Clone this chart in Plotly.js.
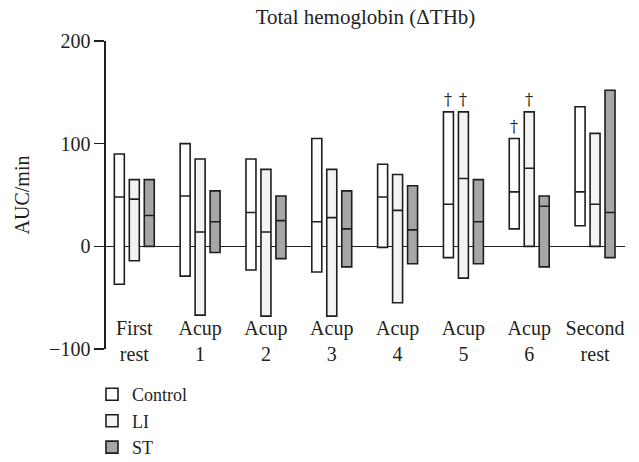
<!DOCTYPE html>
<html>
<head>
<meta charset="utf-8">
<script src="https://cdn.plot.ly/plotly-3.0.1.min.js"></script>
<style>html,body{margin:0;padding:0;background:#fff;}#chart{width:639px;height:462px;}</style>
</head>
<body>
<div id="chart"></div>
<script>
// Categories (x tick labels)
var categories = ['First<br>rest', 'Acup<br>1', 'Acup<br>2', 'Acup<br>3', 'Acup<br>4', 'Acup<br>5', 'Acup<br>6', 'Second<br>rest'];

// Control series: top, median, bottom of each bar (AUC/min)
var controlTop = [90, 100, 85, 105, 80, 131, 105, 136];
var controlMed = [48, 49, 33, 24, 48, 41, 53, 53];
var controlBot = [-37, -29, -23, -25, -1, -11, 17, 20];

// LI series
var liTop = [65, 85, 75, 75, 70, 131, 131, 110];
var liMed = [46, 14, 14, 28, 35, 66, 76, 41];
var liBot = [-14, -67, -68, -68, -55, -31, 0, 0];

// ST series
var stTop = [65, 54, 49, 54, 59, 65, 49, 152];
var stMed = [30, 24, 25, 17, 16, 24, 39, 33];
var stBot = [0, -6, -12, -20, -17, -17, -20, -11];

// Significance markers (dagger): category index and series name
var daggerCats = [5, 5, 6, 6];
var daggerSeries = ['Control', 'LI', 'Control', 'LI'];

var seriesNames = ['Control', 'LI', 'ST'];
var seriesTop = {Control: controlTop, LI: liTop, ST: stTop};
var seriesMed = {Control: controlMed, LI: liMed, ST: stMed};
var seriesBot = {Control: controlBot, LI: liBot, ST: stBot};
var fills = {Control: '#ffffff', LI: '#f2f3f2', ST: '#a6a6a6'};

var BOXGAP = 0.3175, BOXGROUPGAP = 0.333;
var textColor = '#231f20';
var fontFam = 'Liberation Serif';

var traces = seriesNames.map(function (name) {
  return {
    type: 'box',
    name: name,
    x: categories,
    q1: seriesBot[name],
    median: seriesMed[name],
    q3: seriesTop[name],
    lowerfence: seriesBot[name],
    upperfence: seriesTop[name],
    fillcolor: fills[name],
    line: {color: '#1e1e1e', width: 1.6},
    whiskerwidth: 0,
    boxpoints: false,
    hoverinfo: 'skip'
  };
});

var slot = (1 - BOXGAP) / seriesNames.length;
var annotations = daggerCats.map(function (ci, k) {
  var s = seriesNames.indexOf(daggerSeries[k]);
  return {
    x: ci + (s - 1) * slot,
    y: seriesTop[daggerSeries[k]][ci],
    xref: 'x', yref: 'y',
    text: '†',
    showarrow: false,
    xanchor: 'center', yanchor: 'bottom',
    yshift: 1,
    font: {family: 'DejaVu Serif', size: 16, color: '#231f20'}
  };
});

var layout = {
  width: 639, height: 462,
  margin: {l: 106, r: 14, t: 41, b: 113, pad: 0, autoexpand: false},
  paper_bgcolor: '#fff', plot_bgcolor: '#fff',
  font: {family: fontFam, size: 20, color: textColor},
  title: {text: 'Total hemoglobin (ΔTHb)', x: 0.5, xref: 'paper', xanchor: 'center',
          y: 1 - 17 / 462, yref: 'container', yanchor: 'middle',
          font: {family: fontFam, size: 21, color: textColor}},
  boxmode: 'group', boxgap: BOXGAP, boxgroupgap: BOXGROUPGAP,
  showlegend: true,
  legend: {x: -0.027, xanchor: 'left', y: -0.088, yanchor: 'top', orientation: 'v',
           font: {family: fontFam, size: 18, color: textColor}, bgcolor: 'rgba(0,0,0,0)',
           tracegroupgap: 0},
  xaxis: {type: 'category', anchor: 'free', position: 0.115, range: [-0.43, 7.455],
          showline: false, ticks: '', showgrid: false, zeroline: false,
          tickfont: {family: fontFam, size: 20, color: textColor}, fixedrange: true},
  yaxis: {range: [-100, 200], tickvals: [-100, 0, 100, 200], ticktext: ['−100', '0', '100', '200'],
          showline: true, linecolor: '#1e1e1e', linewidth: 1.6,
          ticks: 'outside', ticklen: 10, tickwidth: 1.6, tickcolor: '#1e1e1e',
          showgrid: false, zeroline: true, zerolinecolor: '#1e1e1e', zerolinewidth: 1.6,
          tickfont: {family: fontFam, size: 20, color: textColor},
          title: {text: 'AUC/min', font: {family: fontFam, size: 20, color: textColor}, standoff: 14},
          fixedrange: true},
  annotations: annotations
};

Plotly.newPlot('chart', traces, layout, {displayModeBar: false, staticPlot: true});
</script>
</body>
</html>
